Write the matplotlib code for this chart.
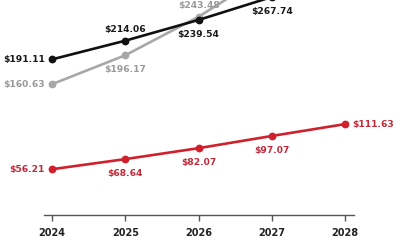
import matplotlib
matplotlib.use("Agg")
import matplotlib.pyplot as plt

years = [2024, 2025, 2026, 2027, 2028]
black_vals = [191.11, 214.06, 239.54, 267.74, 298.0]
gray_vals = [160.63, 196.17, 243.48, 300.0, 360.0]
red_vals = [56.21, 68.64, 82.07, 97.07, 111.63]

# label position per point: l = left, r = right, a = above, b = below, None = off chart
black_pos = ['l', 'a', 'b', 'b', None]
gray_pos = ['l', 'b', 'a', None, None]
red_pos = ['l', 'b', 'b', 'b', 'r']

plt.rcParams['font.family'] = ['DejaVu Sans']

fig = plt.figure(figsize=(4, 2.4), dpi=100)
ax = fig.add_axes([0.11, 25 / 240, 0.775, 215 / 240])


def draw(vals, pos, color, tcolor):
    ax.plot(years, vals, color=color, lw=1.9, marker='o', ms=4.6,
            solid_capstyle='round', zorder=3)
    for x, v, p in zip(years, vals, pos):
        if p is None:
            continue
        txt = "$%.2f" % v
        if p == 'l':
            off, ha, va = (-5, 0), 'right', 'center'
        elif p == 'r':
            off, ha, va = (5, 0), 'left', 'center'
        elif p == 'a':
            off, ha, va = (0, 5), 'center', 'bottom'
        else:
            off, ha, va = (0, -7), 'center', 'top'
        ax.annotate(txt, (x, v), xytext=off, textcoords='offset points',
                    ha=ha, va=va, fontsize=6.6, fontweight='bold',
                    color=tcolor, annotation_clip=False)


draw(gray_vals, gray_pos, '#a8a8a8', '#9a9a9a')
draw(black_vals, black_pos, '#111111', '#1a1a1a')
draw(red_vals, red_pos, '#d0202e', '#c22a3a')

ax.set_xlim(2023.89, 2028.12)
ax.set_ylim(0, 264)
ax.set_xticks(years)
ax.set_xticklabels([str(y) for y in years], fontsize=7, fontweight='bold',
                   color='#222222')
ax.set_yticks([])
for s in ['top', 'right', 'left']:
    ax.spines[s].set_visible(False)
ax.spines['bottom'].set_color('#555555')
ax.spines['bottom'].set_linewidth(1.0)
ax.tick_params(axis='x', length=4, width=1.0, color='#555555', pad=5)

fig.savefig("out.png", dpi=100)
